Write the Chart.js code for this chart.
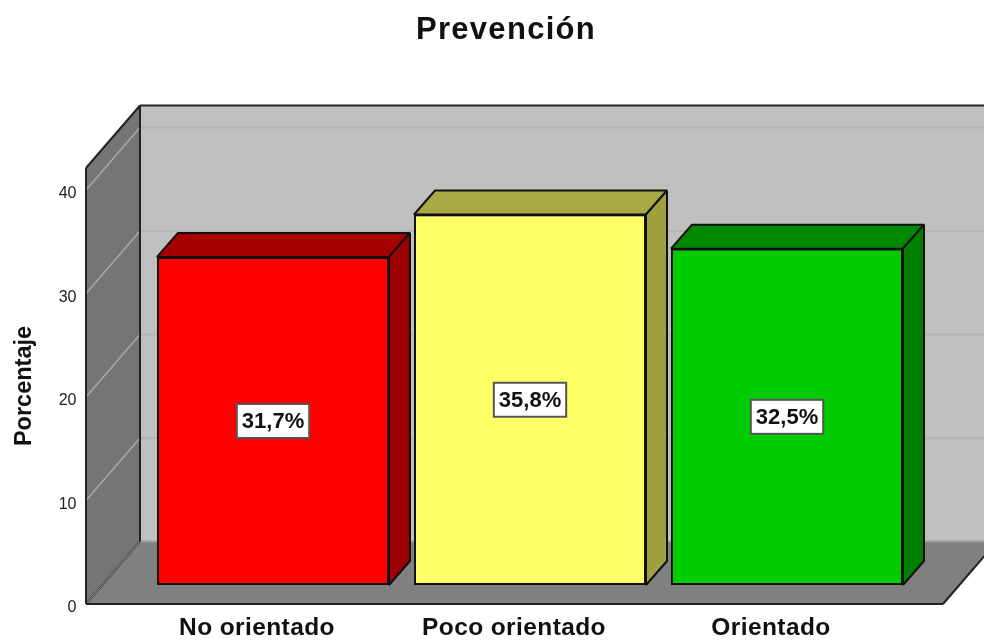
<!DOCTYPE html>
<html><head><meta charset="utf-8">
<style>html,body{margin:0;padding:0;background:#fff}canvas{display:block}</style>
<script src="https://cdn.jsdelivr.net/npm/chart.js@4"></script>
</head><body><canvas id="c" width="984" height="640"></canvas>
<script>
const categories = ["No orientado", "Poco orientado", "Orientado"];
const percentages = [31.7, 35.8, 32.5];
const valueLabels = ["31,7%", "35,8%", "32,5%"];
const frontColors = ["#ff0000", "#ffff66", "#00cc00"];
const topColors = ["#a60000", "#a8a845", "#008800"];
const sideColors = ["#9c0000", "#a0a040", "#007f00"];
const yTicks = [0, 10, 20, 30, 40];

const wallDepth = {x: 54, y: -62.5};
const barDepth = {x: 21, y: -24};
const wallInset = 58.5, floorOver = 27.5;
const fontName = '"Liberation Sans", Arial, sans-serif';

function poly(ctx, pts, fill, stroke, lw) {
  ctx.beginPath();
  pts.forEach((p, i) => i ? ctx.lineTo(p[0], p[1]) : ctx.moveTo(p[0], p[1]));
  ctx.closePath();
  if (fill) { ctx.fillStyle = fill; ctx.fill(); }
  if (stroke) { ctx.strokeStyle = stroke; ctx.lineWidth = lw || 2; ctx.lineJoin = 'bevel'; ctx.stroke(); }
}
function seg(ctx, x1, y1, x2, y2, color, lw) {
  ctx.beginPath(); ctx.moveTo(x1, y1); ctx.lineTo(x2, y2);
  ctx.strokeStyle = color; ctx.lineWidth = lw; ctx.stroke();
}
function spaced(obj, method, ctx, amount) {
  const orig = obj[method];
  obj[method] = function () {
    ctx.letterSpacing = amount;
    orig.apply(this, arguments);
    ctx.letterSpacing = '0px';
  };
}

const scene = {
  id: 'scene',
  afterLayout(chart) {
    chart.titleBlock.left = 28;
    chart.titleBlock.right = 984;
    if (!chart.$spaced) {
      chart.$spaced = true;
      spaced(chart.titleBlock, 'draw', chart.ctx, '1.3px');
      spaced(chart.scales.x, 'drawLabels', chart.ctx, '0.4px');
    }
  },
  beforeDatasetsDraw(chart) {
    const ctx = chart.ctx, y = chart.scales.y, a = chart.chartArea;
    const L = a.left - wallInset, R = a.right + floorOver, T = a.top, B = a.bottom;
    const dx = wallDepth.x, dy = wallDepth.y;
    ctx.save();
    // back wall
    poly(ctx, [[L+dx,T+dy],[R+dx,T+dy],[R+dx,B+dy],[L+dx,B+dy]], '#c0c0c0');
    // floor
    poly(ctx, [[L,B],[R,B],[R+dx,B+dy],[L+dx,B+dy]], '#808080');
    // left wall
    poly(ctx, [[L,T],[L+dx,T+dy],[L+dx,B+dy],[L,B]], '#757575');
    // gridlines
    yTicks.forEach(v => {
      const p = y.getPixelForValue(v);
      if (v > 0) {
        seg(ctx, L+dx, p+dy, R+dx, p+dy, '#b4b4b4', 2);
        seg(ctx, L, p, L+dx, p+dy, '#a8a8a8', 1.5);
      } else {
        seg(ctx, L, p, L+dx, p+dy, '#444', 2);
        seg(ctx, L, p, L+dx, p+dy, '#a0a0a0', 0.8);
      }
    });
    // back wall bottom edge, light
    seg(ctx, L+dx, B+dy, R+dx, B+dy, '#9a9a9a', 2);
    // frame
    seg(ctx, L+dx, T+dy, 984, T+dy, '#222', 2);
    seg(ctx, L+dx, T+dy, L+dx, B+dy, '#222', 2);
    seg(ctx, L, T, L+dx, T+dy, '#222', 2);
    seg(ctx, L, T, L, B, '#222', 2);
    seg(ctx, L, B, R, B, '#222', 2);
    seg(ctx, R, B, R+dx, B+dy, '#222', 2);
    // 3D faces of the bars
    chart.getDatasetMeta(0).data.forEach((bar, i) => {
      const l = bar.x - bar.width/2, r = bar.x + bar.width/2, t = bar.y, b = bar.base;
      const bx = barDepth.x, by = barDepth.y;
      poly(ctx, [[l,t],[r,t],[r+bx,t+by],[l+bx,t+by]], topColors[i], '#111', 2);
      poly(ctx, [[r,t],[r+bx,t+by],[r+bx,b+by],[r,b]], sideColors[i], '#111', 2);
    });
    ctx.restore();
  },
  afterDatasetsDraw(chart) {
    const ctx = chart.ctx;
    ctx.save();
    ctx.font = 'bold 22px ' + fontName;
    ctx.textAlign = 'center'; ctx.textBaseline = 'middle';
    chart.getDatasetMeta(0).data.forEach((bar, i) => {
      const cx = bar.x, cy = (bar.y + bar.base)/2;
      const w = ctx.measureText(valueLabels[i]).width + 10, h = 34;
      ctx.fillStyle = '#fff'; ctx.fillRect(cx-w/2, cy-h/2, w, h);
      ctx.strokeStyle = '#555'; ctx.lineWidth = 2; ctx.strokeRect(cx-w/2, cy-h/2, w, h);
      ctx.fillStyle = '#111';
      ctx.fillText(valueLabels[i], cx, cy+1);
    });
    ctx.restore();
  }
};

function noPadding(s) { s.paddingTop = 0; s.paddingBottom = 0; s.paddingLeft = 0; s.paddingRight = 0; }

new Chart(document.getElementById('c'), {
  type: 'bar',
  data: {
    labels: categories,
    datasets: [{
      data: percentages,
      yAxisID: 'yBars',
      backgroundColor: frontColors,
      borderColor: '#111',
      borderWidth: 2,
      borderSkipped: false,
      barPercentage: 0.9027,
      categoryPercentage: 1
    }]
  },
  plugins: [scene],
  options: {
    responsive: false,
    animation: false,
    layout: {padding: {left: 0, right: 68.5, top: 0, bottom: 0}},
    plugins: {
      legend: {display: false},
      tooltip: {enabled: false},
      title: {
        display: true, text: 'Prevención', color: '#111',
        font: {family: fontName, size: 31, weight: 'bold', lineHeight: 1.2},
        padding: {top: 12, bottom: 118.8}
      }
    },
    scales: {
      x: {
        grid: {display: false, drawTicks: false}, border: {display: false},
        ticks: {
          labelOffset: -16, padding: 10, maxRotation: 0, autoSkip: false, color: '#111',
          font: {family: fontName, size: 24.5, weight: 'bold', lineHeight: 1.2}
        },
        afterFit(s) { s.height = 36; noPadding(s); }
      },
      y: {
        position: 'left', min: 0, max: 42.13,
        grid: {display: false, drawTicks: false}, border: {display: false},
        ticks: {
          includeBounds: false, stepSize: 10, padding: 68, labelOffset: 4, color: '#222',
          font: {family: fontName, size: 16}
        },
        title: {
          display: true, text: 'Porcentaje', color: '#111',
          font: {family: fontName, size: 23.5, weight: 'bold', lineHeight: 1.2},
          padding: {top: 10, bottom: 0}
        },
        afterFit(s) { s.width = 144.5; noPadding(s); }
      },
      yBars: {
        display: false, position: 'left', min: -1.836, max: 40.294
      }
    }
  }
});
</script></body></html>
